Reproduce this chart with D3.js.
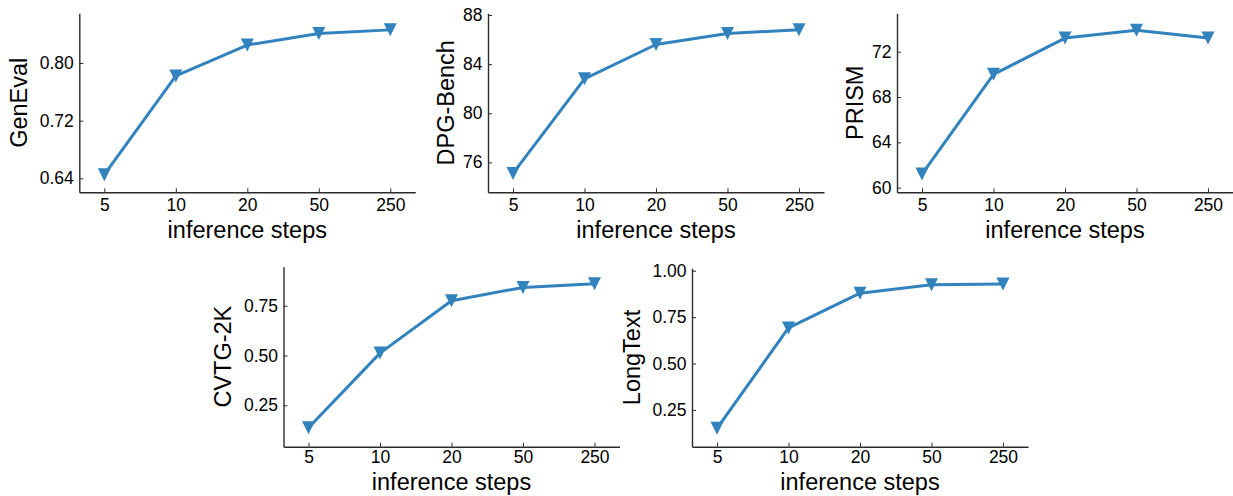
<!DOCTYPE html>
<html>
<head>
<meta charset="utf-8">
<script src="https://cdn.jsdelivr.net/npm/d3@7"></script>
<style>
  body { margin: 0; background: #fff; }
  text { font-family: "Liberation Sans", Arial, Helvetica, sans-serif; fill: #000; }
</style>
</head>
<body>
<svg id="chart" width="1233" height="496"></svg>
<script>
// x categories (shared)
var steps = ["5", "10", "20", "50", "250"];

// series values
var genEval  = [0.645, 0.782, 0.825, 0.841, 0.846];
var dpgBench = [75.1, 82.8, 85.6, 86.5, 86.8];
var prism    = [61.2, 70.0, 73.2, 73.9, 73.2];
var cvtg2k   = [0.137, 0.512, 0.775, 0.842, 0.860];
var longText = [0.151, 0.692, 0.879, 0.924, 0.928];

// y tick labels per panel
var genEvalTicks  = [0.64, 0.72, 0.80];
var dpgBenchTicks = [76, 80, 84, 88];
var prismTicks    = [60, 64, 68, 72];
var cvtg2kTicks   = [0.25, 0.50, 0.75];
var longTextTicks = [0.25, 0.50, 0.75, 1.00];

var color = "#3182bd";

// layout: axes box + y limits per panel
var panels = [
  {name: "GenEval",   values: genEval,  ticks: genEvalTicks,  fmt: ".2f", ylim: [0.6206, 0.869], x: 79.3,  y: 13.3,  w: 336, h: 179,   lab: 52.5, xt: 18.4, xl: 46},
  {name: "DPG-Bench", values: dpgBench, ticks: dpgBenchTicks, fmt: "d",   ylim: [73.56, 88.14],  x: 488,   y: 13.3,  w: 336, h: 179,   lab: 34,   xt: 18.4, xl: 46},
  {name: "PRISM",     values: prism,    ticks: prismTicks,    fmt: "d",   ylim: [59.59, 75.39],  x: 897,   y: 13.3,  w: 336, h: 179,   lab: 34,   xt: 18.4, xl: 46},
  {name: "CVTG-2K",   values: cvtg2k,   ticks: cvtg2kTicks,   fmt: ".2f", ylim: [0.042, 0.946],  x: 283.5, y: 266.7, w: 336, h: 180,   lab: 52.5, xt: 16.5, xl: 43.5},
  {name: "LongText",  values: longText, ticks: longTextTicks, fmt: ".2f", ylim: [0.052, 1.013],  x: 692,   y: 268.3, w: 336, h: 178.4, lab: 52.5, xt: 16.5, xl: 43.5}
];

var svg = d3.select("#chart");

panels.forEach(function(p) {
  var g = svg.append("g").attr("transform", "translate(" + p.x + "," + p.y + ")");

  var x = d3.scalePoint().domain(steps).range([0, p.w]).padding(0.35);
  var y = d3.scaleLinear().domain(p.ylim).range([p.h, 0]);

  // x axis (ticks point inward)
  var xAxis = g.append("g").attr("transform", "translate(0," + p.h + ")")
    .call(d3.axisBottom(x).tickSizeInner(-4).tickSizeOuter(0).tickPadding(8));
  xAxis.select(".domain").attr("stroke", "#2b2b2b").attr("stroke-width", 1.4);
  xAxis.selectAll(".tick line").attr("stroke", "#2b2b2b").attr("stroke-width", 1);
  xAxis.selectAll(".tick text").attr("font-size", 17.5).attr("fill", "#000")
    .attr("y", p.xt).attr("dy", 0);

  // y axis
  var yAxis = g.append("g")
    .call(d3.axisLeft(y).tickValues(p.ticks).tickFormat(d3.format(p.fmt))
      .tickSizeInner(-4).tickSizeOuter(0).tickPadding(10));
  yAxis.select(".domain").attr("stroke", "#2b2b2b").attr("stroke-width", 1.4);
  yAxis.selectAll(".tick line").attr("stroke", "#2b2b2b").attr("stroke-width", 1);
  yAxis.selectAll(".tick text").attr("font-size", 17.5).attr("fill", "#000").attr("x", -5.5);

  // axis labels
  g.append("text")
    .attr("x", p.w / 2).attr("y", p.h + p.xl)
    .attr("text-anchor", "middle").attr("font-size", 23.5)
    .text("inference steps");
  g.append("text")
    .attr("transform", "translate(" + (-p.lab) + "," + (p.h / 2) + ") rotate(-90)")
    .attr("text-anchor", "middle").attr("font-size", 23.5)
    .text(p.name);

  // line
  var line = d3.line()
    .x(function(d, i) { return x(steps[i]); })
    .y(function(d) { return y(d); });
  g.append("path").datum(p.values)
    .attr("d", line)
    .attr("fill", "none").attr("stroke", color)
    .attr("stroke-width", 3).attr("stroke-linejoin", "round");

  // triangle-down markers
  var s = 6.5;
  g.selectAll(".mk").data(p.values).enter().append("path")
    .attr("class", "mk")
    .attr("transform", function(d, i) { return "translate(" + x(steps[i]) + "," + y(d) + ")"; })
    .attr("d", "M" + (-s) + "," + (-s) + "L" + s + "," + (-s) + "L0," + s + "Z")
    .attr("fill", color);
});
</script>
</body>
</html>
